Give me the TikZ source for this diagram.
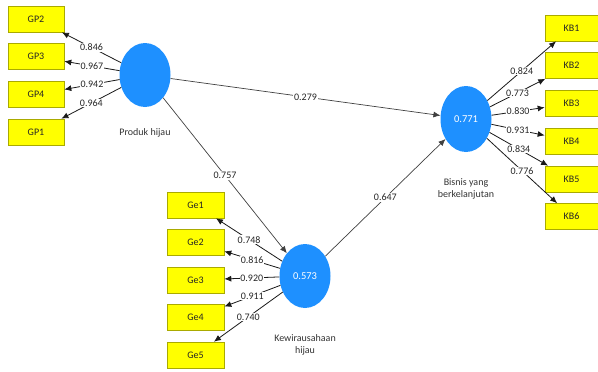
\documentclass[tikz,border=0pt]{standalone}
\usepackage{fontspec}
\setmainfont{Carlito}
\usetikzlibrary{arrows.meta,shapes.geometric}
\definecolor{lvblue}{RGB}{30,144,255}
\definecolor{mvyellow}{RGB}{255,255,0}
\definecolor{mvedge}{RGB}{170,170,0}
\begin{document}
\begin{tikzpicture}[x=1pt,y=-1pt,
  font=\fontsize{10}{11.5}\selectfont,
  indicator/.style={draw=mvedge,line width=0.6pt,fill=mvyellow,minimum height=26pt,inner sep=0pt,text=black!85},
  latent/.style={ellipse,fill=lvblue,draw=none,minimum width=51pt,minimum height=64pt,inner sep=0pt,text=white,font=\fontsize{10.5}{12}\selectfont},
  caption/.style={align=center,text=black!80,inner sep=0pt},
  loading/.style={draw=black!90,line width=0.8pt,-{Latex[length=7pt,width=6pt]}},
  path/.style={draw=black!75,line width=0.7pt,-{Latex[length=7pt,width=6pt]}},
  coef/.style={fill=white,inner sep=0.8pt,text=black!85,pos=0.5}]
\useasboundingbox (0,0) rectangle (598,372);

% latent variables
\node[latent] (prod) at (145,75) {};
\node[latent] (kew) at (305,276) {0.573};
\node[latent,minimum height=66pt] (bis) at (466,119) {0.771};
\node[caption] (prodcap) at (145,133) {Produk hijau};
\node[caption] (kewcap) at (305,345) {Kewirausahaan\\hijau};
\node[caption] (biscap) at (466,189) {Bisnis yang\\berkelanjutan};

% indicators of Produk hijau
\node[indicator,minimum width=56pt] (gp2) at (36,19) {GP2};
\node[indicator,minimum width=56pt] (gp3) at (36,56.5) {GP3};
\node[indicator,minimum width=56pt] (gp4) at (36,94.5) {GP4};
\node[indicator,minimum width=56pt] (gp1) at (36,132) {GP1};

% indicators of Kewirausahaan hijau
\node[indicator,minimum width=57pt] (ge1) at (195.5,205) {Ge1};
\node[indicator,minimum width=57pt] (ge2) at (195.5,242.5) {Ge2};
\node[indicator,minimum width=57pt] (ge3) at (195.5,280) {Ge3};
\node[indicator,minimum width=57pt] (ge4) at (195.5,317.5) {Ge4};
\node[indicator,minimum width=57pt] (ge5) at (195.5,355) {Ge5};

% indicators of Bisnis yang berkelanjutan
\node[indicator,minimum width=53pt] (kb1) at (571.5,28) {KB1};
\node[indicator,minimum width=53pt] (kb2) at (571.5,65.5) {KB2};
\node[indicator,minimum width=53pt] (kb3) at (571.5,103.5) {KB3};
\node[indicator,minimum width=53pt] (kb4) at (571.5,141) {KB4};
\node[indicator,minimum width=53pt] (kb5) at (571.5,179) {KB5};
\node[indicator,minimum width=53pt] (kb6) at (571.5,216.5) {KB6};

% outer loadings
\draw[loading] (prod) -- node[coef]{0.846} (gp2);
\draw[loading] (prod) -- node[coef]{0.967} (gp3);
\draw[loading] (prod) -- node[coef]{0.942} (gp4);
\draw[loading] (prod) -- node[coef]{0.964} (gp1);

\draw[loading] (kew) -- node[coef]{0.748} (ge1);
\draw[loading] (kew) -- node[coef]{0.816} (ge2);
\draw[loading] (kew) -- node[coef]{0.920} (ge3);
\draw[loading] (kew) -- node[coef]{0.911} (ge4);
\draw[loading] (kew) -- node[coef]{0.740} (ge5);

\draw[loading] (bis) -- node[coef]{0.824} (kb1);
\draw[loading] (bis) -- node[coef]{0.773} (kb2);
\draw[loading] (bis) -- node[coef]{0.830} (kb3);
\draw[loading] (bis) -- node[coef]{0.931} (kb4);
\draw[loading] (bis) -- node[coef]{0.834} (kb5);
\draw[loading] (bis) -- node[coef]{0.776} (kb6);

% structural paths
\draw[path] (prod) -- node[coef]{0.279} (bis);
\draw[path] (prod) -- node[coef]{0.757} (kew);
\draw[path] (kew) -- node[coef]{0.647} (bis);
\end{tikzpicture}
\end{document}
